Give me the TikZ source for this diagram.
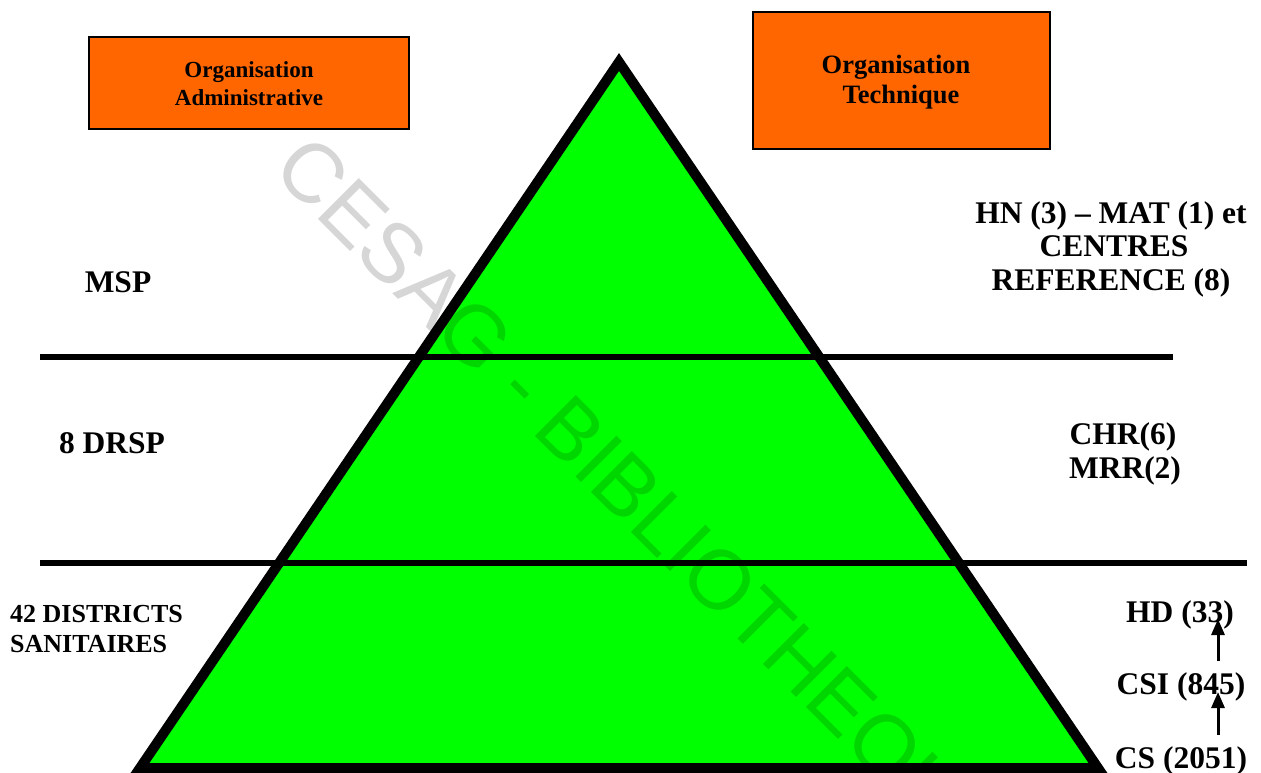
\documentclass[tikz,border=0pt]{standalone}
\usepackage{fontspec}
\setmainfont{Liberation Serif}
\newfontfamily\wmfont{Liberation Sans}
\usetikzlibrary{arrows.meta}
\definecolor{boxorange}{HTML}{FF6600}
\definecolor{pyrgreen}{HTML}{00FF00}
\tikzset{
  orgbox/.style={draw=black, line width=2pt, fill=boxorange, inner sep=0pt},
  admtext/.style={font=\fontsize{23}{28}\selectfont\bfseries, inner sep=0pt, anchor=base},
  techtext/.style={font=\fontsize{26.5}{30}\selectfont\bfseries, inner sep=0pt, anchor=base},
  lbl/.style={font=\fontsize{31.5}{34}\selectfont\bfseries, inner sep=0pt, anchor=base},
  smalllbl/.style={font=\fontsize{26}{30}\selectfont\bfseries, inner sep=0pt, anchor=base west},
  divider/.style={line width=6pt},
  uparrow/.style={line width=3pt, -{Triangle[length=16pt,width=13pt]}},
}
\begin{document}
\begin{tikzpicture}[x=1pt, y=-1pt]
\useasboundingbox (0,0) rectangle (1261,773);

% pyramid
\coordinate (apex) at (619,62);
\coordinate (bl) at (140,768);
\coordinate (br) at (1098,768);
\draw[line width=10pt, line join=miter, fill=pyrgreen] (apex) -- (bl) -- (br) -- cycle;

% level dividers
\coordinate (d1a) at (40,357);
\coordinate (d1b) at (1173,357);
\coordinate (d2a) at (40,563);
\coordinate (d2b) at (1247,563);
\draw[divider] (d1a) -- (d1b);
\draw[divider] (d2a) -- (d2b);

% headers
\node[orgbox, minimum width=320pt, minimum height=92pt] (admin) at (249,83) {};
\node[admtext] (admin1) at (249,78) {Organisation};
\node[admtext] (admin2) at (249,106) {Administrative};
\node[orgbox, minimum width=297pt, minimum height=137pt] (tech) at (901.5,80.5) {};
\node[techtext] (tech1) at (896,74) {Organisation};
\node[techtext] (tech2) at (901,104) {Technique};

% administrative levels
\node[lbl] (msp) at (118,292) {MSP};
\node[lbl] (drsp) at (112,453) {8 DRSP};
\node[smalllbl] (ds1) at (10,622) {42 DISTRICTS};
\node[smalllbl] (ds2) at (10,652) {SANITAIRES};

% technical levels
\node[lbl] (hn) at (1111,223) {HN (3) -- MAT (1) et};
\node[lbl] (centres) at (1114,256) {CENTRES};
\node[lbl] (ref) at (1111,290) {REFERENCE (8)};
\node[lbl] (chr) at (1123,444) {CHR(6)};
\node[lbl] (mrr) at (1125,478) {MRR(2)};
\node[lbl] (hd) at (1180,622) {HD (33)};
\node[lbl] (csi) at (1181,694) {CSI (845)};
\node[lbl] (cs) at (1181,768) {CS (2051)};

% referral arrows
\coordinate (a1s) at (1218,661);
\coordinate (a1e) at (1218,619);
\coordinate (a2s) at (1218,735);
\coordinate (a2e) at (1218,692);
\draw[uparrow] (a1s) -- (a1e);
\draw[uparrow] (a2s) -- (a2e);

% library stamp
\begin{scope}
\clip (0,0) rectangle (1261,773);
\node[font=\wmfont\fontsize{84}{84}\selectfont, text=black, text opacity=0.16,
      rotate=-45, anchor=base, inner sep=0pt] (stamp) at (620,521)
      {CESAG - BIBLIOTHEQUE};
\end{scope}
\end{tikzpicture}
\end{document}
